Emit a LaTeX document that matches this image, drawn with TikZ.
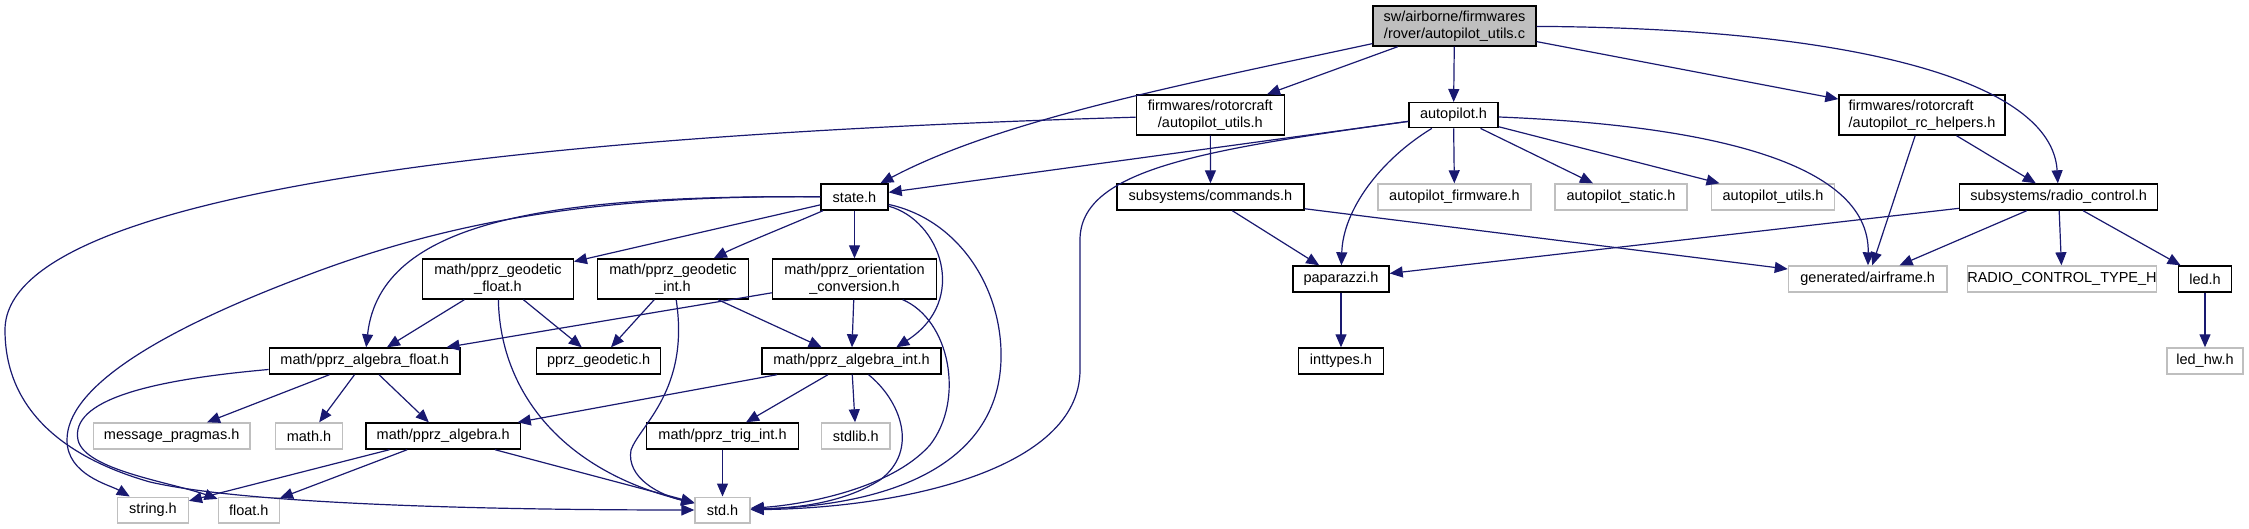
\documentclass[tikz,border=0pt]{standalone}
\usepackage{fontspec}
\setmainfont{Liberation Sans}
\usetikzlibrary{arrows.meta}
\definecolor{edgec}{HTML}{191970}
\definecolor{greyb}{HTML}{BFBFBF}
\begin{document}
\begin{tikzpicture}[x=0.5pt,y=-0.5pt,
  sz/.style 2 args={minimum width=#1*0.5pt, minimum height=#2*0.5pt},
  blk/.style={draw=black, line width=0.7pt, fill=white, rectangle, inner sep=0pt, align=center, font=\fontsize{7.25}{8.35}\selectfont},
  gry/.style={blk, draw=greyb},
  dep/.style={draw=edgec, line width=0.6pt, -{Triangle[length=6.5pt,width=5.5pt]}}]
\useasboundingbox (0,0) rectangle (2249,529);
% row 0
\node[blk, fill=greyb, sz={163}{40}] (root) at (1454.5,26) {sw/airborne/firmwares\\/rover/autopilot\_utils.c};
% row 1
\node[blk, sz={148}{40}] (fau) at (1210.3,115) {firmwares/rotorcraft\\/autopilot\_utils.h};
\node[blk, sz={89}{25}] (ap) at (1453.5,115.2) {autopilot.h};
\node[blk, sz={166}{40}, align=left] (rch) at (1922,115) {firmwares/rotorcraft\\/autopilot\_rc\_helpers.h};
% row 2
\node[blk, sz={67}{26}] (state) at (854.5,197) {state.h};
\node[blk, sz={187}{26}] (cmd) at (1210.5,197) {subsystems/commands.h};
\node[gry, sz={153}{26}] (apf) at (1454.5,197) {autopilot\_firmware.h};
\node[gry, sz={132}{26}] (aps) at (1621,197) {autopilot\_static.h};
\node[gry, sz={123}{26}] (apu) at (1773,197) {autopilot\_utils.h};
\node[blk, sz={198}{26}] (rc) at (2058.6,197) {subsystems/radio\_control.h};
% row 3
\node[blk, sz={150.5}{40}] (gf) at (498,279) {math/pprz\_geodetic\\\_float.h};
\node[blk, sz={151}{40}] (gi) at (673,279) {math/pprz\_geodetic\\\_int.h};
\node[blk, sz={164}{40}] (oc) at (854.5,279) {math/pprz\_orientation\\\_conversion.h};
\node[blk, sz={96}{26}] (pap) at (1341,279) {paparazzi.h};
\node[gry, sz={158.5}{26}] (air) at (1867.7,279) {generated/airframe.h};
\node[gry, sz={182}{26}] (rct) at (2062,279) {RADIO\_CONTROL\_TYPE\_H};
\node[blk, sz={53.5}{26}] (led) at (2205,279) {led.h};
% row 4
\node[blk, sz={190.7}{26}] (af) at (364.7,361) {math/pprz\_algebra\_float.h};
\node[blk, sz={124}{26}] (pg) at (598.6,361) {pprz\_geodetic.h};
\node[blk, sz={179}{26}] (ai) at (851.5,361) {math/pprz\_algebra\_int.h};
\node[blk, sz={85}{26}] (it) at (1341,361) {inttypes.h};
\node[gry, sz={76}{26}] (lhw) at (2205,361) {led\_hw.h};
% row 5
\node[gry, sz={156.7}{26}] (mp) at (171.7,436) {message\_pragmas.h};
\node[gry, sz={67.4}{26}] (mh) at (309,436) {math.h};
\node[blk, sz={154.4}{26}] (pa) at (443.2,436) {math/pprz\_algebra.h};
\node[blk, sz={151.6}{26}] (ti) at (722.5,436) {math/pprz\_trig\_int.h};
\node[gry, sz={68.3}{26}] (sl) at (855.8,436) {stdlib.h};
% row 6
\node[gry, sz={70.6}{25.6}] (str) at (153,510) {string.h};
\node[gry, sz={61}{25.6}] (flt) at (248.8,510) {float.h};
\node[gry, sz={55}{25.6}] (std) at (722.5,510) {std.h};

% edges from root
\draw[dep] (root) .. controls (1180,85) and (1000,120) .. (state);
\draw[dep] (root) -- (fau);
\draw[dep] (root) -- (ap);
\draw[dep] (root) -- (rch);
\draw[dep] (root) .. controls (1850,28) and (2052,80) .. (rc);
% firmwares/rotorcraft/autopilot_utils.h
\draw[dep] (fau) -- (cmd);
\draw[dep] (fau) .. controls (700,130) and (5,170) .. (5,330) .. controls (5,420) and (80,462) .. (150,482) .. controls (250,505) and (500,510) .. (std);
% autopilot.h
\draw[dep] (ap) -- (state);
\draw[dep] (ap) .. controls (1200,150) and (1080,170) .. (1080,240) -- (1080,370) .. controls (1080,470) and (900,508) .. (std);
\draw[dep] (ap) .. controls (1380,160) and (1343,210) .. (pap);
\draw[dep] (ap) -- (apf);
\draw[dep] (ap) -- (aps);
\draw[dep] (ap) -- (apu);
\draw[dep] (ap) .. controls (1700,125) and (1870,160) .. (air);
% rc helpers
\draw[dep] (rch) -- (air);
\draw[dep] (rch) -- (rc);
% commands
\draw[dep] (cmd) -- (pap);
\draw[dep] (cmd) -- (air);
% radio control
\draw[dep] (rc) -- (pap);
\draw[dep] (rc) -- (air);
\draw[dep] (rc) -- (rct);
\draw[dep] (rc) -- (led);
\draw[dep] (led) -- (lhw);
\draw[dep] (pap) -- (it);
% state.h
\draw[dep] (state) -- (gf);
\draw[dep] (state) .. controls (790,225) and (740,245) .. (gi);
\draw[dep] (state) -- (oc);
\draw[dep] (state) .. controls (550,195) and (380,220) .. (af);
\draw[dep] (state) .. controls (600,195) and (450,220) .. (300,278) .. controls (150,335) and (67,390) .. (67,440) .. controls (67,475) and (110,485) .. (str);
\draw[dep] (state) .. controls (940,220) and (970,300) .. (ai.17);
\draw[dep] (state) .. controls (960,220) and (1003,290) .. (1001,360) .. controls (998,460) and (900,505) .. (std);
% geodetic float
\draw[dep] (gf) -- (af);
\draw[dep] (gf) -- (pg);
\draw[dep] (gf) .. controls (500,390) and (560,470) .. (std);
% geodetic int
\draw[dep] (gi) -- (pg);
\draw[dep] (gi) .. controls (690,390) and (640,425) .. (631,450) .. controls (626,478) and (660,495) .. (std);
\draw[dep] (gi) -- (ai);
% orientation conversion
\draw[dep] (oc) -- (af);
\draw[dep] (oc) -- (ai);
\draw[dep] (oc) .. controls (950,320) and (965,400) .. (930,445) .. controls (890,490) and (800,505) .. (std);
% algebra int
\draw[dep] (ai) -- (pa);
\draw[dep] (ai) -- (ti);
\draw[dep] (ai) -- (sl);
\draw[dep] (ai) .. controls (900,400) and (920,450) .. (880,480) .. controls (840,505) and (790,508) .. (std);
% algebra float
\draw[dep] (af) -- (mp);
\draw[dep] (af) -- (mh);
\draw[dep] (af) -- (pa);
\draw[dep] (af) .. controls (150,380) and (70,400) .. (78,440) .. controls (85,470) and (170,482) .. (flt);
% algebra
\draw[dep] (pa) -- (str);
\draw[dep] (pa) -- (flt);
\draw[dep] (pa) -- (std);
\draw[dep] (ti) -- (std);
\end{tikzpicture}
\end{document}
